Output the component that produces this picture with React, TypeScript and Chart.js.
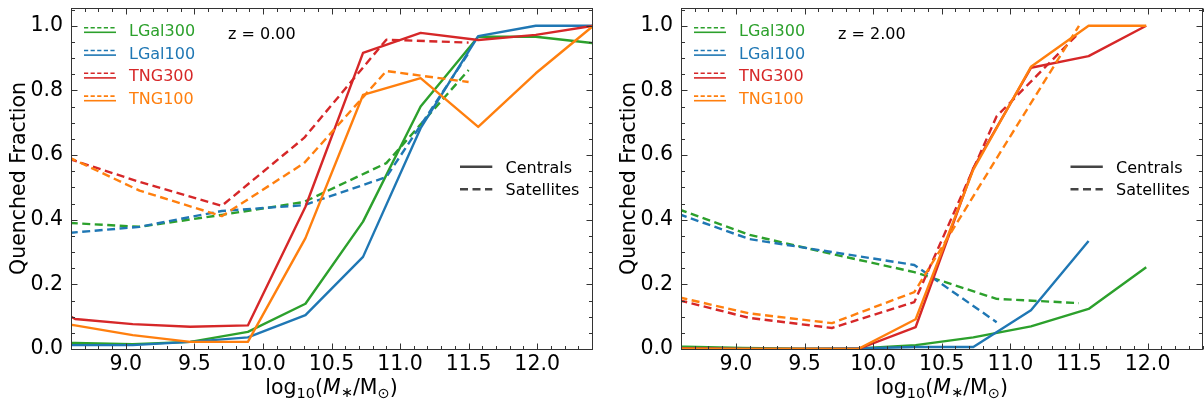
import React, { useEffect, useRef } from 'react';
import { Chart, registerables } from 'chart.js';

Chart.register(...registerables);

const FONT = "'DejaVu Sans', 'Liberation Sans', sans-serif";
const TICK_FONT_SIZE = 20.5;
const SUB_FONT_SIZE = 14.5;
const LEGEND_FONT_SIZE = 16;
const AXIS_COLOR = '#333333';

const simNames = ['LGal300', 'LGal100', 'TNG300', 'TNG100'];
const simColors = ['#2ca02c', '#1f77b4', '#d62728', '#ff7f0e'];

// stellar-mass bin centres
const xCentrals = [8.21, 8.63, 9.05, 9.47, 9.89, 10.31, 10.73, 11.15, 11.57, 11.99, 12.41];
const xSatellites = [8.5, 9.1, 9.7, 10.3, 10.9, 11.5];

// z = 0.00
const z0_LGal300_cen = [0.02, 0.019, 0.015, 0.022, 0.053, 0.14, 0.394, 0.75, 0.966, 0.966, 0.946];
const z0_LGal100_cen = [0.012, 0.012, 0.012, 0.022, 0.036, 0.105, 0.285, 0.683, 0.968, 1.0, 1.0];
const z0_TNG300_cen = [0.19, 0.093, 0.077, 0.069, 0.073, 0.44, 0.916, 0.978, 0.956, 0.972, 1.0];
const z0_TNG100_cen = [0.1, 0.073, 0.043, 0.022, 0.022, 0.343, 0.786, 0.838, 0.687, 0.853, 1.0];
const z0_LGal300_sat = [0.392, 0.378, 0.415, 0.455, 0.575, 0.863];
const z0_LGal100_sat = [0.356, 0.378, 0.427, 0.445, 0.532, 0.916];
const z0_TNG300_sat = [0.6, 0.517, 0.443, 0.653, 0.957, 0.948];
const z0_TNG100_sat = [0.61, 0.49, 0.411, 0.575, 0.86, 0.826];

// z = 2.00
const z2_LGal300_cen = [0.008, 0.007, 0.003, 0.001, 0.002, 0.012, 0.036, 0.07, 0.124, 0.253];
const z2_LGal100_cen = [0.002, 0.001, 0.0, 0.0, 0.002, 0.006, 0.006, 0.12, 0.334];
const z2_TNG300_cen = [0.003, 0.002, 0.0, 0.0, 0.0, 0.068, 0.56, 0.87, 0.906, 1.0];
const z2_TNG100_cen = [0.002, 0.001, 0.0, 0.0, 0.0, 0.092, 0.555, 0.873, 1.0, 1.0];
const z2_LGal300_sat = [0.445, 0.353, 0.294, 0.238, 0.155, 0.142];
const z2_LGal100_sat = [0.43, 0.34, 0.3, 0.26, 0.083];
const z2_TNG300_sat = [0.16, 0.096, 0.065, 0.145, 0.72, 0.978];
const z2_TNG100_sat = [0.168, 0.11, 0.08, 0.176, 0.59, 1.0];

const xTickValues = [9.0, 9.5, 10.0, 10.5, 11.0, 11.5, 12.0];
const yTickValues = [0.0, 0.2, 0.4, 0.6, 0.8, 1.0];
const X_MIN = 8.6;
const X_MAX = 12.4;
const Y_MIN = 0;
const Y_MAX = 1.055;

const zLabels = ['z = 0.00', 'z = 2.00'];
const typeLabels = ['Centrals', 'Satellites'];
const yTitle = 'Quenched Fraction';

const DATA_DASH = [8, 4.5];
const LINE_WIDTH = 2.4;

function series(xs: number[], ys: number[], color: string, dashed: boolean, label: string) {
  return {
    label,
    data: ys.map((y, i) => ({ x: xs[i], y })),
    borderColor: color,
    backgroundColor: color,
    borderWidth: LINE_WIDTH,
    borderDash: dashed ? DATA_DASH : [],
    borderJoinStyle: 'round',
    pointRadius: 0,
    pointHoverRadius: 0,
    fill: false,
    tension: 0,
    clip: 0,
  };
}

function buildDatasets(cen: number[][], sat: number[][]) {
  const out: any[] = [];
  // first dataset is drawn on top in Chart.js -> list TNG100 first
  for (let k = 3; k >= 0; k--) {
    out.push(series(xSatellites, sat[k], simColors[k], true, simNames[k] + ' satellites'));
    out.push(series(xCentrals, cen[k], simColors[k], false, simNames[k] + ' centrals'));
  }
  return out;
}

const panels = [
  {
    left: 0,
    yWidth: 71,
    padRight: 10,
    zLabel: zLabels[0],
    datasets: () =>
      buildDatasets(
        [z0_LGal300_cen, z0_LGal100_cen, z0_TNG300_cen, z0_TNG100_cen],
        [z0_LGal300_sat, z0_LGal100_sat, z0_TNG300_sat, z0_TNG100_sat]
      ),
  },
  {
    left: 602,
    yWidth: 79,
    padRight: 1.5,
    zLabel: zLabels[1],
    datasets: () =>
      buildDatasets(
        [z2_LGal300_cen, z2_LGal100_cen, z2_TNG300_cen, z2_TNG100_cen],
        [z2_LGal300_sat, z2_LGal100_sat, z2_TNG300_sat, z2_TNG100_sat]
      ),
  },
];

function decorPlugin(zLabel: string) {
  return {
    id: 'decor',
    afterDraw(chart: any) {
      const { ctx, chartArea: a, scales } = chart;
      const xs = scales.x;
      const ys = scales.y;
      ctx.save();

      // frame
      const L = Math.round(a.left) + 0.5;
      const R = Math.floor(a.right) + 0.5;
      const T = Math.round(a.top) + 0.5;
      const B = Math.round(a.bottom) + 0.5;
      ctx.strokeStyle = AXIS_COLOR;
      ctx.lineWidth = 1;
      ctx.setLineDash([]);
      ctx.strokeRect(L, T, R - L, B - T);

      // inward ticks on all sides
      ctx.beginPath();
      for (let k = Math.ceil(X_MIN * 10 - 1e-9); k <= Math.floor(X_MAX * 10 + 1e-9); k++) {
        const v = k / 10;
        const len = k % 5 === 0 ? 6 : 3.5;
        const p = Math.round(xs.getPixelForValue(v)) + 0.5;
        ctx.moveTo(p, B);
        ctx.lineTo(p, B - len);
        ctx.moveTo(p, T);
        ctx.lineTo(p, T + len);
      }
      for (let k = 0; k <= Math.floor(Y_MAX * 20 + 1e-9); k++) {
        const v = k / 20;
        const len = k % 4 === 0 ? 6 : 3.5;
        const p = Math.round(ys.getPixelForValue(v)) + 0.5;
        ctx.moveTo(L, p);
        ctx.lineTo(L + len, p);
        ctx.moveTo(R, p);
        ctx.lineTo(R - len, p);
      }
      ctx.stroke();

      // simulation legend (top-left)
      const rowY0 = 30;
      const rowStep = 22.8;
      ctx.font = `${LEGEND_FONT_SIZE}px ${FONT}`;
      ctx.textAlign = 'left';
      ctx.textBaseline = 'alphabetic';
      simNames.forEach((name, i) => {
        const cy = rowY0 + i * rowStep;
        ctx.strokeStyle = simColors[i];
        ctx.lineWidth = 1.6;
        ctx.setLineDash([4.2, 2.4]);
        ctx.beginPath();
        ctx.moveTo(a.left + 13, cy - 2.3);
        ctx.lineTo(a.left + 45, cy - 2.3);
        ctx.stroke();
        ctx.setLineDash([]);
        ctx.beginPath();
        ctx.moveTo(a.left + 13, cy + 2.3);
        ctx.lineTo(a.left + 45, cy + 2.3);
        ctx.stroke();
        ctx.fillStyle = simColors[i];
        ctx.fillText(name, a.left + 58, cy + 5.8);
      });

      // redshift label
      ctx.fillStyle = '#000';
      ctx.fillText(zLabel, a.left + 157, 38.5);

      // centrals / satellites legend
      const cRows = [166.7, 189.3];
      typeLabels.forEach((lab, i) => {
        ctx.strokeStyle = '#444';
        ctx.lineWidth = LINE_WIDTH;
        ctx.setLineDash(i === 0 ? [] : DATA_DASH);
        ctx.beginPath();
        ctx.moveTo(a.right - 132, cRows[i]);
        ctx.lineTo(a.right - 99.7, cRows[i]);
        ctx.stroke();
        ctx.fillStyle = '#000';
        ctx.fillText(lab, a.right - 86.5, cRows[i] + 5.8);
      });
      ctx.setLineDash([]);

      // y title
      ctx.save();
      ctx.translate(a.left - 46, (a.top + a.bottom) / 2);
      ctx.rotate(-Math.PI / 2);
      ctx.font = `${TICK_FONT_SIZE}px ${FONT}`;
      ctx.textAlign = 'center';
      ctx.fillStyle = '#000';
      ctx.fillText(yTitle, 0, 0);
      ctx.restore();

      // x title: log10(M*/Msun)
      const N = `${TICK_FONT_SIZE}px ${FONT}`;
      const I = `italic ${TICK_FONT_SIZE}px ${FONT}`;
      const S = `${SUB_FONT_SIZE}px ${FONT}`;
      const pieces = [
        { t: 'log', f: N, dy: 0 },
        { t: '10', f: S, dy: 4 },
        { t: '(', f: N, dy: 0 },
        { t: 'M', f: I, dy: 0 },
        { t: '\u2217', f: S, dy: 3 },
        { t: '/M', f: N, dy: 0 },
        { t: '\u2299', f: S, dy: 4 },
        { t: ')', f: N, dy: 0 },
      ];
      let total = 0;
      const widths = pieces.map((p) => {
        ctx.font = p.f;
        const w = ctx.measureText(p.t).width;
        total += w;
        return w;
      });
      let x = (a.left + a.right) / 2 - total / 2;
      ctx.textAlign = 'left';
      ctx.fillStyle = '#000';
      pieces.forEach((p, i) => {
        ctx.font = p.f;
        ctx.fillText(p.t, x, 394 + p.dy);
        x += widths[i];
      });

      ctx.restore();
    },
  };
}

function Panel({ spec }: { spec: any }) {
  const ref = useRef<HTMLCanvasElement>(null);
  useEffect(() => {
    const canvas = ref.current;
    if (!canvas) return;
    const chart = new Chart(canvas, {
      type: 'line',
      data: { datasets: spec.datasets() },
      options: {
        animation: false,
        responsive: false,
        maintainAspectRatio: false,
        devicePixelRatio: 1,
        events: [],
        layout: { padding: { left: 0, right: spec.padRight, top: 8, bottom: 0 } },
        plugins: { legend: { display: false }, tooltip: { enabled: false }, title: { display: false } },
        scales: {
          x: {
            type: 'linear',
            min: X_MIN,
            max: X_MAX,
            grid: { display: false, drawTicks: false },
            border: { display: false },
            ticks: {
              autoSkip: false,
              maxRotation: 0,
              padding: 3,
              color: '#000',
              font: { family: FONT, size: TICK_FONT_SIZE },
              callback: (v: any) => Number(v).toFixed(1),
            },
            afterBuildTicks: (s: any) => {
              s.ticks = xTickValues.map((v) => ({ value: v }));
            },
            afterFit: (s: any) => {
              s.height = 53;
              s.paddingLeft = 0;
              s.paddingRight = 0;
            },
          },
          y: {
            type: 'linear',
            min: Y_MIN,
            max: Y_MAX,
            grid: { display: false, drawTicks: false },
            border: { display: false },
            ticks: {
              autoSkip: false,
              padding: 8,
              color: '#000',
              font: { family: FONT, size: TICK_FONT_SIZE },
              callback: (v: any) => Number(v).toFixed(1),
            },
            afterBuildTicks: (s: any) => {
              s.ticks = yTickValues.map((v) => ({ value: v }));
            },
            afterFit: (s: any) => {
              s.width = spec.yWidth;
              s.paddingTop = 0;
              s.paddingBottom = 0;
            },
          },
        },
      } as any,
      plugins: [decorPlugin(spec.zLabel)],
    } as any);
    return () => chart.destroy();
  }, [spec]);
  return (
    <canvas
      ref={ref}
      width={602}
      height={402}
      style={{ position: 'absolute', left: spec.left, top: 0, width: 602, height: 402, display: 'block' }}
    />
  );
}

export default function App() {
  return (
    <div style={{ position: 'absolute', left: 0, top: 0, width: 1204, height: 402, background: '#fff', overflow: 'hidden' }}>
      <Panel spec={panels[0]} />
      <Panel spec={panels[1]} />
    </div>
  );
}
